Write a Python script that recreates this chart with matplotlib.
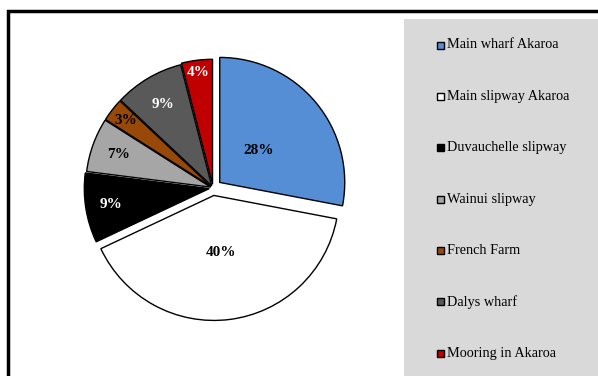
import matplotlib.pyplot as plt
from matplotlib.patches import Rectangle
import numpy as np

# boat launch locations and share of trips (%)
locations = ["Main wharf Akaroa", "Main slipway Akaroa", "Duvauchelle slipway",
             "Wainui slipway", "French Farm", "Dalys wharf", "Mooring in Akaroa"]
shares = [28, 40, 9, 7, 3, 9, 4]

colors = ["#558ED5", "#FFFFFF", "#000000", "#A6A6A6", "#984807", "#595959", "#C00000"]
label_colors = ["black", "black", "white", "black", "black", "white", "white"]
label_radius = [0.40, 0.46, 0.80, 0.78, 0.86, 0.76, 0.90]
explode = [0.07, 0.06, 0.03, 0.02, 0.02, 0.02, 0.03]

W, H = 598, 376
fig = plt.figure(figsize=(W / 100, H / 100), dpi=100)

# outer chart frame and grey legend panel
fig.patches.append(Rectangle((8 / W, -0.1), 1.2, 1 - 11 / H + 0.1, transform=fig.transFigure,
                             fill=False, edgecolor="black", linewidth=2.5))
fig.patches.append(Rectangle((404 / W, -0.1), 1.0, 1 - 19 / H + 0.1, transform=fig.transFigure,
                             facecolor="#D9D9D9", edgecolor="none"))

ax = fig.add_axes([0, 0, 1, 1])
ax.patch.set_visible(False)

wedges, _ = ax.pie(shares, colors=colors, startangle=90, counterclock=False,
                   explode=explode,
                   wedgeprops=dict(edgecolor="black", linewidth=1.0))

for w, v, c, r, e in zip(wedges, shares, label_colors, label_radius, explode):
    ang = np.deg2rad((w.theta1 + w.theta2) / 2)
    ax.text((r + e) * np.cos(ang), (r + e) * np.sin(ang), f"{v}%",
            ha="center", va="center", color=c, fontsize=11, fontweight="bold",
            family="Liberation Serif")

# pie centre at (213, 188) px, radius 125 px
cx, cy, R = 213, 188, 125
ax.set_aspect("auto")
ax.set_xlim(-cx / R, (W - cx) / R)
ax.set_ylim(-(H - cy) / R, cy / R)
ax.axis("off")

# legend entries
ys = np.linspace(45, 353, len(locations))
for name, col, y in zip(locations, colors, ys):
    fig.patches.append(Rectangle((437 / W, 1 - (y + 3.5) / H), 7 / W, 7 / H,
                                 transform=fig.transFigure, facecolor=col,
                                 edgecolor="black", linewidth=1.0))
    fig.text(447 / W, 1 - y / H, name, ha="left", va="center", fontsize=10.3,
             family="Liberation Serif")

fig.savefig("out.png", dpi=100)
